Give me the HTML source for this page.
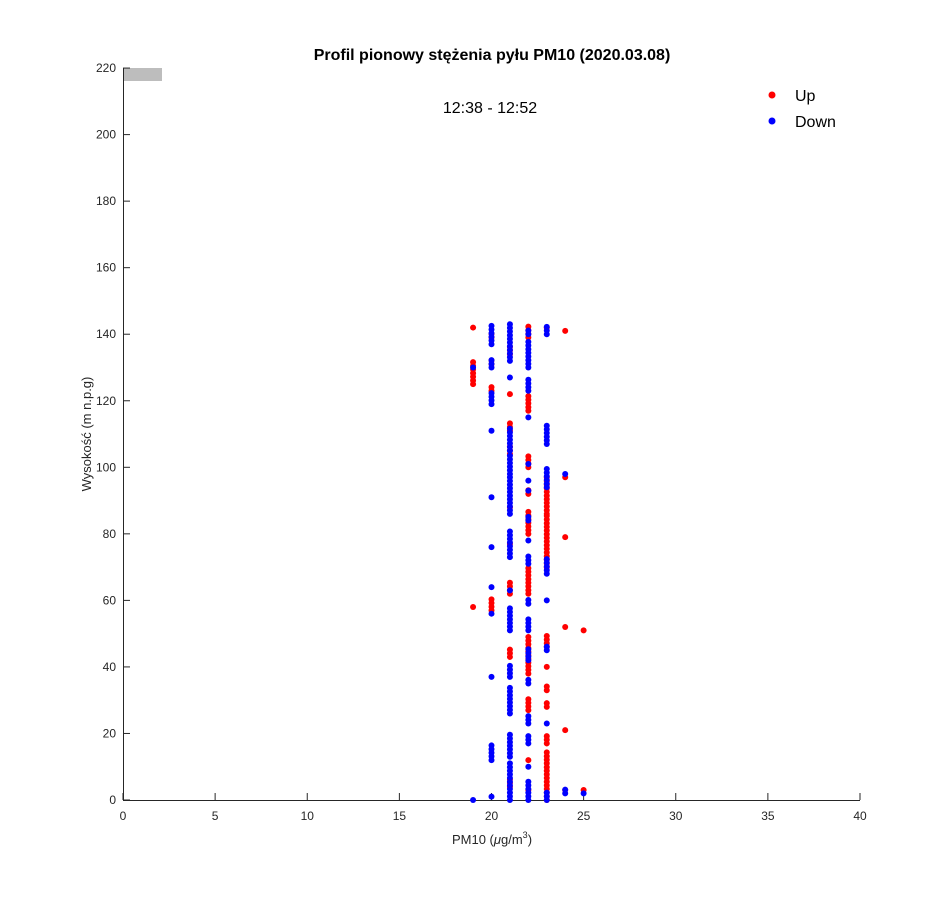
<!DOCTYPE html>
<html><head><meta charset="utf-8"><style>
body{margin:0;background:#fff}
svg{display:block;font-family:"Liberation Sans",sans-serif}
</style></head><body>
<svg id="s" width="950" height="900" xmlns="http://www.w3.org/2000/svg">
<rect width="950" height="900" fill="#fff"/>
<rect x="123" y="68" width="39" height="13" fill="#bdbdbd"/>
<g stroke="#262626" stroke-width="1" fill="none">
<line x1="123" y1="800.5" x2="860" y2="800.5"/>
<line x1="123.5" y1="68" x2="123.5" y2="800"/>
</g>
<g id="ticks" stroke="#262626"></g>
<g id="lbl" font-size="12" fill="#262626"></g>
<text x="492" y="60" font-size="16" font-weight="bold" text-anchor="middle" fill="#000">Profil pionowy stężenia pyłu PM10 (2020.03.08)</text>
<text x="490" y="113" font-size="16" text-anchor="middle" fill="#000">12:38 - 12:52</text>
<text x="492" y="844" font-size="13" text-anchor="middle" fill="#262626">PM10 (<tspan font-style="italic">μ</tspan>g/m<tspan font-size="9" dy="-6">3</tspan><tspan dy="6">)</tspan></text>
<text transform="translate(91,434) rotate(-90)" font-size="13" text-anchor="middle" fill="#262626">Wysokość (m n.p.g)</text>
<g id="dots"></g>
<circle cx="772" cy="95" r="3.5" fill="#f00"/>
<circle cx="772" cy="121" r="3.5" fill="#00f"/>
<text x="795" y="101" font-size="16" fill="#000">Up</text>
<text x="795" y="127" font-size="16" fill="#000">Down</text>
</svg>
<script>
var NS="http://www.w3.org/2000/svg";
function X(v){return 123+v*18.425}
function Y(v){return 800-v*3.327}
var t=document.getElementById('ticks'),l=document.getElementById('lbl');
function el(p,n,a,txt){var e=document.createElementNS(NS,n);for(var k in a)e.setAttribute(k,a[k]);if(txt!=null)e.textContent=txt;p.appendChild(e);}
for(var v=0;v<=40;v+=5){var x=X(v);el(t,'line',{x1:x,x2:x,y1:800,y2:793});el(l,'text',{x:x,y:820,'text-anchor':'middle'},v);}
for(var v=0;v<=220;v+=20){var y=Y(v);el(t,'line',{x1:123,x2:130,y1:y,y2:y});el(l,'text',{x:116,y:y+4,'text-anchor':'end'},v);}
var R=[[19,[[142,143],[125,132],[58,58]]],
[20,[[139,141],[131,133],[123,125],[57,61]]],
[21,[[134,137],[122,122],[111,114],[104,107],[88,88],[77,77],[62,66],[43,46],[4,7]]],
[22,[[139,143],[117,122],[100,104],[92,94],[80,87],[62,70],[38,50],[27,31],[12,12],[3,3]]],
[23,[[142,142],[86,97],[70,86],[46,50],[40,41],[33,35],[28,30],[17,20],[0,15]]],
[24,[[141,141],[97,97],[79,79],[52,53],[21,22],[3,4]]],
[25,[[51,51],[3,4]]]];
var B=[[19,[[130,131],[0,0]]],
[20,[[137,143],[130,133],[119,123],[111,111],[91,92],[76,76],[64,65],[56,57],[37,38],[12,17],[1,2]]],
[21,[[132,143],[127,127],[105,112],[98,104],[86,97],[73,81],[63,63],[51,58],[37,41],[26,34],[13,20],[0,12]]],
[22,[[140,142],[130,138],[115,116],[123,127],[101,101],[96,97],[93,93],[84,86],[78,78],[59,61],[71,74],[35,37],[51,55],[42,46],[23,26],[10,10],[17,20],[0,6]]],
[23,[[140,143],[107,113],[94,100],[68,73],[60,61],[45,47],[23,23],[0,3]]],
[24,[[98,99],[2,4]]],
[25,[[2,3]]]];
var d=document.getElementById('dots');
function draw(S,c){S.forEach(function(col){col[1].forEach(function(sg){for(var y=sg[0];y<=sg[1]+0.01;y+=1.1){el(d,'circle',{cx:X(col[0]),cy:Y(y),r:3,fill:c});}});});}
draw(R,'#f00');draw(B,'#00f');
</script>
</body></html>
